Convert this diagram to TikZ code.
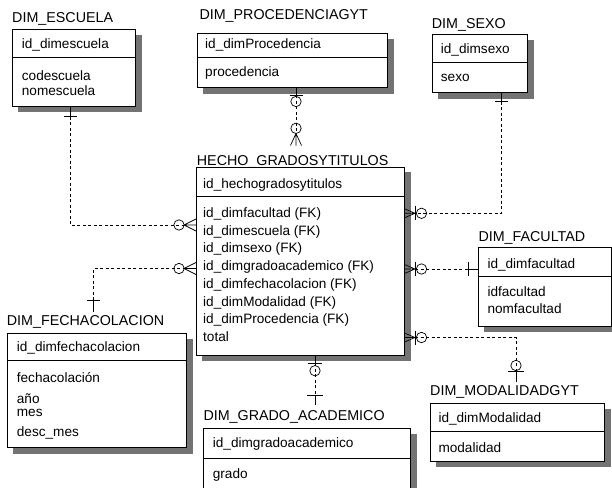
\documentclass[tikz,border=0pt]{standalone}
\usepackage{fontspec}
\setmainfont{Liberation Sans}
\usetikzlibrary{backgrounds}
\begin{document}
\begin{tikzpicture}[x=1pt,y=-1pt, font=\fontsize{13.6}{16}\selectfont,
 ent/.style={draw, line width=0.8pt, fill=white, inner sep=0, anchor=north west},
 ttl/.style={anchor=base west, inner sep=0, font=\fontsize{14.3}{17}\selectfont},
 fld/.style={anchor=base west, inner sep=0},
 shad/.style={fill=black!55},
 sepline/.style={line width=0.8pt},
 rel/.style={line width=0.7pt, dash pattern=on 3pt off 2.5pt},
 sol/.style={line width=0.7pt},
 sym/.style={line width=0.7pt},
 circ/.pic={\draw[sym] (0,0) circle[radius=5.2];},
 hbar/.pic={\draw[sym] (-6.5,0) -- (6.5,0);},
 vbar/.pic={\draw[sym] (0,-7) -- (0,7);},
 crowE/.pic={\draw[sym] (0,0) -- (12,-6) (0,0) -- (12,0) (0,0) -- (12,6);},
 crowW/.pic={\draw[sym] (0,0) -- (-10.5,-4.5) (0,0) -- (-10.5,0) (0,0) -- (-10.5,4.5);},
 crowS/.pic={\draw[sym] (0,0) -- (-5.5,12) (0,0) -- (0,12) (0,0) -- (5.5,12);}
]
\useasboundingbox (0,0) rectangle (612,487);
\clip (0,0) rectangle (612,487);

% ---------- DIM_ESCUELA
\node[ttl] (escT) at (12,22.7) {DIM\_ESCUELA};
\node[ent, minimum width=123.3pt, minimum height=76.7pt] (esc) at (11.7,29.3) {};
\draw[sepline] (esc.west |- 0,57.3) -- (esc.east |- 0,57.3);
\node[fld] (esc1) at (21.7,48.3) {id\_dimescuela};
\node[fld] (esc2) at (21.7,80) {codescuela};
\node[fld] (esc3) at (21.7,95) {nomescuela};

% ---------- DIM_PROCEDENCIAGYT
\node[ttl] (procT) at (199.3,19.3) {DIM\_PROCEDENCIAGYT};
\node[ent, minimum width=190pt, minimum height=54pt] (proc) at (197.3,33.3) {};
\draw[sepline] (proc.west |- 0,57.3) -- (proc.east |- 0,57.3);
\node[fld] (proc1) at (205,48.3) {id\_dimProcedencia};
\node[fld] (proc2) at (205,76) {procedencia};

% ---------- DIM_SEXO
\node[ttl] (sexT) at (431.7,28.3) {DIM\_SEXO};
\node[ent, minimum width=95.6pt, minimum height=58pt] (sex) at (431.7,34.3) {};
\draw[sepline] (sex.west |- 0,62.3) -- (sex.east |- 0,62.3);
\node[fld] (sex1) at (440.7,53.3) {id\_dimsexo};
\node[fld] (sex2) at (440.7,81.7) {sexo};

% ---------- HECHO_GRADOSYTITULOS
\node[ttl] (hecT) at (196.7,165) {HECHO\_GRADOSYTITULOS};
\node[ent, minimum width=208.3pt, minimum height=188.3pt] (hec) at (195.7,166.7) {};
\draw[sepline] (hec.west |- 0,196.7) -- (hec.east |- 0,196.7);
\node[fld] (hec0) at (203,188.3) {id\_hechogradosytitulos};
\node[fld] (hec1) at (203,217.3) {id\_dimfacultad (FK)};
\node[fld] (hec2) at (203,235.1) {id\_dimescuela (FK)};
\node[fld] (hec3) at (203,252.8) {id\_dimsexo (FK)};
\node[fld] (hec4) at (203,270.6) {id\_dimgradoacademico (FK)};
\node[fld] (hec5) at (203,288.4) {id\_dimfechacolacion (FK)};
\node[fld] (hec6) at (203,306.2) {id\_dimModalidad (FK)};
\node[fld] (hec7) at (203,323.9) {id\_dimProcedencia (FK)};
\node[fld] (hec8) at (203,341.7) {total};

% ---------- DIM_FECHACOLACION
\node[ttl] (fecT) at (6.7,325) {DIM\_FECHACOLACION};
\node[ent, minimum width=179.3pt, minimum height=114pt] (fec) at (6.7,333.3) {};
\draw[sepline] (fec.west |- 0,360.7) -- (fec.east |- 0,360.7);
\node[fld] (fec1) at (16.7,351.7) {id\_dimfechacolacion};
\node[fld] (fec2) at (16.7,382) {fechacolación};
\node[fld] (fec3) at (16.7,403.5) {año};
\node[fld] (fec4) at (16.7,416.7) {mes};
\node[fld] (fec5) at (16.7,436) {desc\_mes};

% ---------- DIM_FACULTAD
\node[ttl] (facT) at (478.3,241.7) {DIM\_FACULTAD};
\node[ent, minimum width=132.4pt, minimum height=79.3pt] (fac) at (478.3,246.7) {};
\draw[sepline] (fac.west |- 0,276) -- (fac.east |- 0,276);
\node[fld] (fac1) at (487.3,268.3) {id\_dimfacultad};
\node[fld] (fac2) at (487.3,296.7) {idfacultad};
\node[fld] (fac3) at (487.3,313.3) {nomfacultad};

% ---------- DIM_GRADO_ACADEMICO
\node[ttl] (graT) at (203.3,420) {DIM\_GRADO\_ACADEMICO};
\node[ent, minimum width=207.3pt, minimum height=80pt] (gra) at (202.7,428.3) {};
\draw[sepline] (gra.west |- 0,458.3) -- (gra.east |- 0,458.3);
\node[fld] (gra1) at (212.7,447.7) {id\_dimgradoacademico};
\node[fld] (gra2) at (212.7,478.3) {grado};

% ---------- DIM_MODALIDADGYT
\node[ttl] (modT) at (430,395) {DIM\_MODALIDADGYT};
\node[ent, minimum width=174pt, minimum height=57.4pt] (mod) at (430,403.3) {};
\draw[sepline] (mod.west |- 0,431) -- (mod.east |- 0,431);
\node[fld] (mod1) at (438.3,422.3) {id\_dimModalidad};
\node[fld] (mod2) at (438.3,452.3) {modalidad};

% ---------- shadows
\begin{scope}[on background layer]
 \foreach \n in {esc,proc,sex,hec,fec,fac,gra,mod}
  \fill[shad] ([shift={(6,5.5)}]\n.north west) rectangle ([shift={(6,5.5)}]\n.south east);
\end{scope}

% ---------- ESC -> HECHO
\coordinate (e1b) at (70,116.7);
\coordinate (e1k) at (184,225);
\draw[sol] (esc.south -| e1b) -- (e1b);
\draw[rel] (e1b) |- (e1k);
\pic at (e1b) {hbar};
\pic at (179,225) {circ};
\pic at (e1k) {crowE};

% ---------- FECHA -> HECHO
\coordinate (f1b) at (93.3,300);
\coordinate (f1t) at (93.3,311.7);
\coordinate (f1k) at (184,268.5);
\draw[sol] (f1b) -- (f1t);
\draw[rel] (f1b) |- (f1k);
\pic at (f1b) {hbar};
\pic at (179,268.5) {circ};
\pic at (f1k) {crowE};

% ---------- PROC -> HECHO
\coordinate (p1b) at (296,95);
\coordinate (p1k) at (296,133.5);
\draw[sol] (proc.south -| p1b) -- (p1b);
\draw[rel] (p1b) -- (p1k);
\pic at (p1b) {hbar};
\pic at (296,101.5) {circ};
\pic at (296,128.3) {circ};
\pic at (p1k) {crowS};

% ---------- SEXO -> HECHO
\coordinate (s1b) at (501.7,101.7);
\coordinate (s1k) at (415,213.3);
\draw[sol] (sex.south -| s1b) -- (s1b);
\draw[rel] (s1b) |- (s1k);
\pic at (s1b) {hbar};
\pic at (421.5,213.3) {circ};
\pic at (s1k) {vbar};
\pic at (s1k) {crowW};

% ---------- FACULTAD -> HECHO
\coordinate (c1k) at (415,269);
\coordinate (c1b) at (468.3,269);
\draw[rel] (c1k) -- (c1b);
\draw[sol] (c1b) -- (fac.west |- c1b);
\pic at (c1b) {vbar};
\pic at (421.5,269) {circ};
\pic at (c1k) {vbar};
\pic at (c1k) {crowW};

% ---------- MODALIDAD -> HECHO
\coordinate (m1k) at (415,337.5);
\coordinate (m1b) at (516,371);
\coordinate (m1t) at (516,381.7);
\draw[rel] (m1k) -| (m1b);
\draw[sol] (m1b) -- (m1t);
\pic[scale=1.2] at (m1b) {hbar};
\pic at (516,365.5) {circ};
\pic at (421.5,337.5) {circ};
\pic at (m1k) {vbar};
\pic at (m1k) {crowW};

% ---------- GRADO -> HECHO
\coordinate (g1a) at (315,363.3);
\coordinate (g1b) at (315,395);
\coordinate (g1t) at (315,405);
\draw[sol] (hec.south -| g1a) -- (g1a);
\draw[rel] (g1a) -- (g1b);
\draw[sol] (g1b) -- (g1t);
\pic[scale=1.15] at (g1a) {hbar};
\pic at (315,370.7) {circ};
\pic[scale=1.25] at (g1b) {hbar};
\end{tikzpicture}
\end{document}
